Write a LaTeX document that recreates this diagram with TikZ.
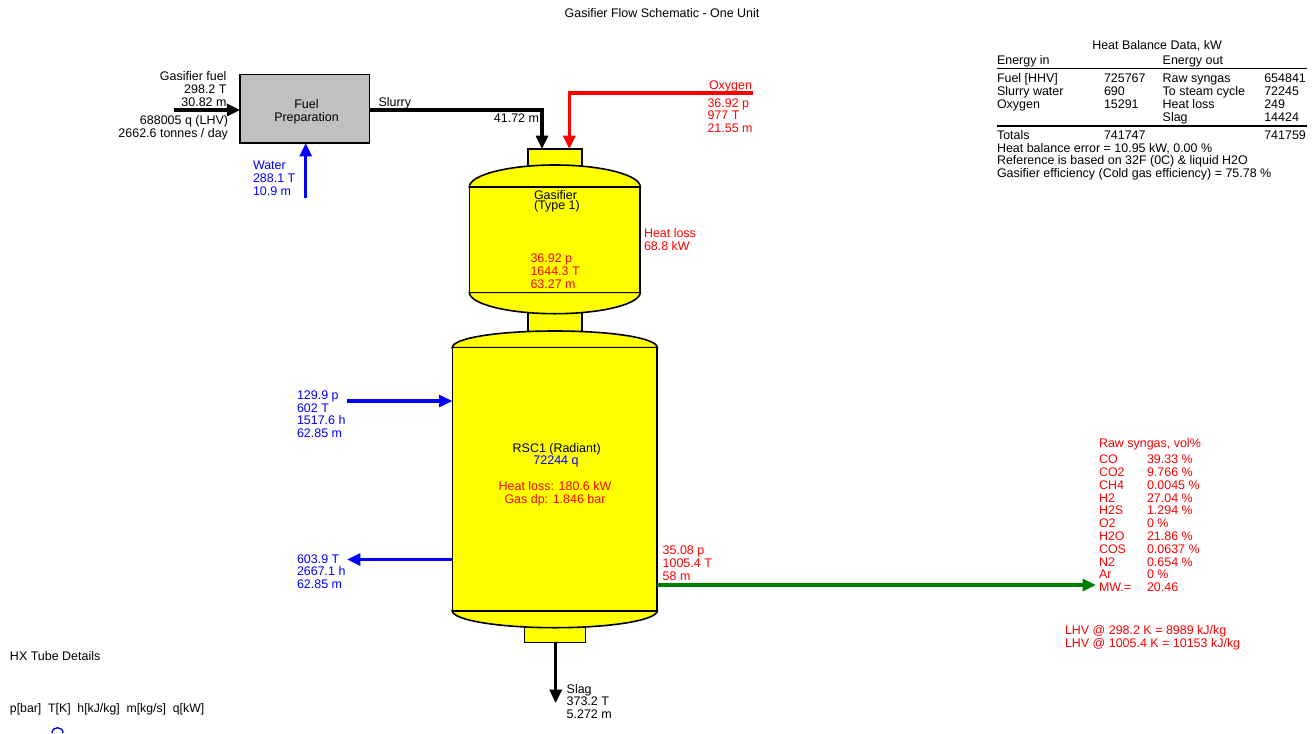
\documentclass[tikz,border=0pt]{standalone}
\usepackage{fontspec}
\setmainfont{Liberation Sans}
\usetikzlibrary{arrows.meta}

\definecolor{vesselyellow}{RGB}{255,255,0}
\definecolor{prepgray}{RGB}{192,192,192}
\definecolor{steamblue}{RGB}{0,0,255}
\definecolor{syngasgreen}{RGB}{0,128,0}

\tikzset{
  txt/.style={inner sep=0pt, outer sep=0pt, anchor=base west, align=left, yshift=-0.75pt,
    font=\fontsize{9.35}{9.6}\selectfont},
  txtr/.style={txt, anchor=base east, align=right},
  txtc/.style={txt, anchor=base, align=center},
  part/.style={draw=black, fill=vesselyellow, line width=1.2pt, inner sep=0pt, outer sep=0pt},
  head/.style={draw=black, fill=vesselyellow, line width=1.2pt},
  stream/.style={line width=2.3pt, -{Triangle[length=10pt,width=9pt]}},
  rule/.style={line width=1pt}
}

\begin{document}
\begin{tikzpicture}[x=0.75pt,y=-0.75pt]
  \useasboundingbox (0,0) rectangle (1315,733);
  \clip (0,0) rectangle (1315,733);

  % connection points
  \coordinate (fuelin) at (174,110);
  \coordinate (waterin) at (305.7,198);
  \coordinate (slurryin) at (542,149);
  \coordinate (oxyin) at (569.3,149);
  \coordinate (oxystart) at (753,93);
  \coordinate (bfwstart) at (347,401);
  \coordinate (bfwend) at (347,559.5);
  \coordinate (slagend) at (555.7,703);
  \coordinate (syngasend) at (1096,585);

  % gasifier
  \node[part, minimum width=40.5pt, minimum height=16pt] (topnozzle) at (555,159.4) {};
  \node[part, minimum width=40.5pt, minimum height=16pt] (neck) at (555,322) {};
  \draw[head] (469.3,187) .. controls (469.3,175) and (508,165) .. (555,165)
    .. controls (602,165) and (640.3,175) .. (640.3,187) -- cycle;
  \draw[head] (469.3,292.3) .. controls (469.3,304) and (508,313.7) .. (555,313.7)
    .. controls (602,313.7) and (640.3,304) .. (640.3,292.3) -- cycle;
  \node[part, minimum width=128.2pt, minimum height=79pt] (gasifier) at (554.8,239.7) {};

  % radiant cooler
  \node[part, minimum width=45.5pt, minimum height=11pt] (botnozzle) at (555,635) {};
  \draw[head] (452.3,347.7) .. controls (452.3,338) and (498,331) .. (555,331)
    .. controls (612,331) and (657.3,338) .. (657.3,347.7) -- cycle;
  \draw[head] (452.3,610.7) .. controls (452.3,620) and (498,627.7) .. (555,627.7)
    .. controls (612,627.7) and (657.3,620) .. (657.3,610.7) -- cycle;
  \node[part, minimum width=153.7pt, minimum height=197.3pt] (rsc) at (554.8,479.2) {};

  \node[part, fill=prepgray, minimum width=97pt, minimum height=51.4pt] (fuelprep) at (304.8,108.8) {};
  \node[txtc, font=\fontsize{9.35}{10}\selectfont] (fuelpreplabel) at (306.5,120.5) {Fuel\\Preparation};

  % streams
  \draw[stream] (fuelin) -- (fuelin -| fuelprep.west);
  \draw[stream, steamblue] (waterin) -- (fuelprep.south -| waterin);
  \draw[stream] (fuelprep.east |- fuelin) -| (slurryin);
  \draw[stream, red] (oxystart) -| (oxyin);
  \draw[stream, steamblue] (bfwstart) -- (bfwstart -| rsc.west);
  \draw[stream, steamblue] (rsc.west |- bfwend) -- (bfwend);
  \draw[stream] (botnozzle.south -| slagend) -- (slagend);
  \draw[stream, syngasgreen] (rsc.east |- syngasend) -- (syngasend);

  % labels
  \node[txtc] (title) at (662,16) {Gasifier Flow Schematic - One Unit};
  \node[txtr] (fuellabel) at (226.5,105) {Gasifier fuel\\298.2 T\\30.82 m};
  \node[txtr] (fueldata) at (228,136) {688005 q (LHV)\\2662.6 tonnes / day};
  \node[txt] (slurrylabel) at (378.5,105) {Slurry};
  \node[txtr] (slurrydata) at (539,121) {41.72 m};
  \node[txt, steamblue] (waterlabel) at (253,194.3) {Water\\288.1 T\\10.9 m};
  \node[txt, red] (oxylabel) at (709,88) {Oxygen};
  \node[txt, red] (oxydata) at (707.5,131.7) {36.92 p\\977 T\\21.55 m};
  \node[txt] (gasifierlabel) at (534,198) {Gasifier};
  \node[txt] (gasifiertype) at (534,208.5) {(Type 1)};
  \node[txt, red] (gasifierdata) at (530.5,287) {36.92 p\\1644.3 T\\63.27 m};
  \node[txt, red] (gasifierloss) at (644,249) {Heat loss\\68.8 kW};
  \node[txt, steamblue] (bfwindata) at (297,436.7) {129.9 p\\602 T\\1517.6 h\\62.85 m};
  \node[txt, steamblue] (bfwoutdata) at (297,587.7) {603.9 T\\2667.1 h\\62.85 m};
  \node[txtc] (rsclabel) at (556.7,451) {RSC1 (Radiant)};
  \node[txtc, steamblue] (rscduty) at (556,463) {72244 q};
  \node[txtc, red] (rscloss) at (555,502.7) {Heat loss: 180.6 kW\\Gas dp: 1.846 bar};
  \node[txt, red] (syngasdata) at (662.7,579) {35.08 p\\1005.4 T\\58 m};
  \node[txt] (slaglabel) at (566.7,717.7) {Slag\\373.2 T\\5.272 m};

  % syngas composition
  \node[txt, red] (comptitle) at (1099,446.7) {Raw syngas, vol\%};
  \node[txt, red] (compnames) at (1099,590.7) {CO\\CO2\\CH4\\H2\\H2S\\O2\\H2O\\COS\\N2\\Ar\\MW.=};
  \node[txt, red] (compvalues) at (1147,590.7) {39.33 \%\\9.766 \%\\0.0045 \%\\27.04 \%\\1.294 \%\\0 \%\\21.86 \%\\0.0637 \%\\0.654 \%\\0 \%\\20.46};
  \node[txt, red] (lhvlabel) at (1065,646.7) {LHV @ 298.2 K = 8989 kJ/kg\\LHV @ 1005.4 K = 10153 kJ/kg};

  % heat balance table
  \node[txt] (baltitle) at (1092.3,48.3) {Heat Balance Data, kW};
  \node[txt] (energyin) at (997,63.3) {Energy in};
  \node[txt] (energyout) at (1162.7,63.3) {Energy out};
  \draw[rule] (997,68.3) -- (1307,68.3);
  \node[txt] (innames) at (997,107.3) {Fuel [HHV]\\Slurry water\\Oxygen};
  \node[txt] (invalues) at (1104,107.3) {725767\\690\\15291};
  \node[txt] (outnames) at (1162.7,120) {Raw syngas\\To steam cycle\\Heat loss\\Slag};
  \node[txt] (outvalues) at (1264.3,120) {654841\\72245\\249\\14424};
  \draw[rule] (997,126) -- (1307,126);
  \node[txt] (totals) at (997,138.3) {Totals};
  \node[txt] (totalin) at (1104,138.3) {741747};
  \node[txt] (totalout) at (1264.3,138.3) {741759};
  \node[txt] (balnotes) at (997,176.7) {Heat balance error = 10.95 kW, 0.00 \%\\Reference is based on 32F (0C) \& liquid H2O\\Gasifier efficiency (Cold gas efficiency) = 75.78 \%};

  % tube details
  \node[txt] (hxtitle) at (10,659.3) {HX Tube Details};
  \node[txt, font=\fontsize{9.2}{9.6}\selectfont] (hxhead) at (10,711) {p[bar]\ \ T[K]\ \ h[kJ/kg]\ \ m[kg/s]\ \ q[kW]};
  \draw[steamblue, line width=1pt] (52,733) .. controls (52,726) and (63,726) .. (63,733);
\end{tikzpicture}
\end{document}
